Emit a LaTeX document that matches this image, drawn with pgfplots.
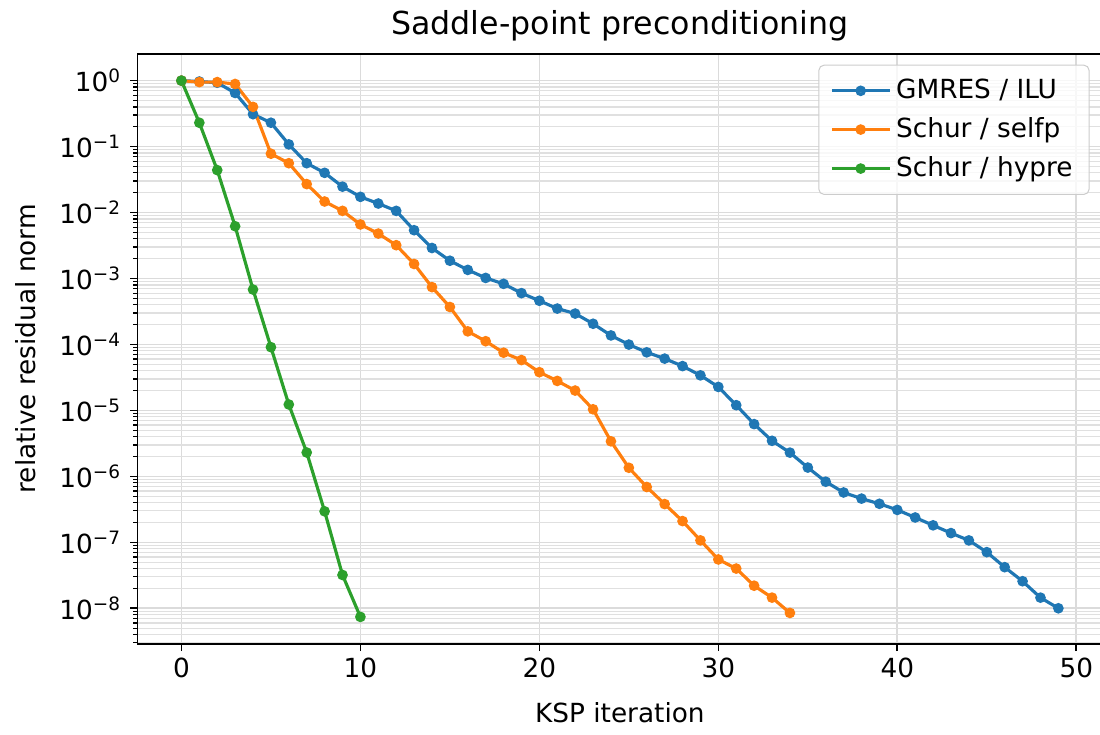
\documentclass[border={2.7pt 1.5pt -1.2pt 0.8pt}]{standalone}
\usepackage{fontspec}
\setmainfont{DejaVu Sans}
\usepackage{pgfplots}
\usepackage{pgfplotstable}
\pgfplotsset{compat=1.18}

\definecolor{tabblue}{HTML}{1F77B4}
\definecolor{taborange}{HTML}{FF7F0E}
\definecolor{tabgreen}{HTML}{2CA02C}

% KSP residual histories
\pgfplotstableread{
it res
0 1.0
1 0.97
2 0.93
3 0.65
4 0.31
5 0.23
6 0.108
7 0.056
8 0.040
9 0.0247
10 0.0173
11 0.0137
12 0.0106
13 0.0054
14 0.0029
15 0.00186
16 0.00135
17 0.00102
18 0.00083
19 0.00060
20 0.00046
21 0.00035
22 0.000294
23 0.000206
24 0.000137
25 0.0000996
26 7.6e-5
27 6.1e-5
28 4.7e-5
29 3.4e-5
30 2.27e-5
31 1.2e-5
32 6.2e-6
33 3.46e-6
34 2.29e-6
35 1.36e-6
36 8.3e-7
37 5.7e-7
38 4.6e-7
39 3.84e-7
40 3.1e-7
41 2.38e-7
42 1.81e-7
43 1.38e-7
44 1.07e-7
45 7.1e-8
46 4.2e-8
47 2.57e-8
48 1.45e-8
49 1.0e-8
}\gmresilu

\pgfplotstableread{
it res
0 1.0
1 0.95
2 0.95
3 0.89
4 0.40
5 0.078
6 0.056
7 0.027
8 0.0147
9 0.0106
10 0.0066
11 0.0048
12 0.0032
13 0.00166
14 0.00074
15 0.00037
16 1.58e-4
17 1.12e-4
18 7.5e-5
19 5.8e-5
20 3.8e-5
21 2.8e-5
22 2.0e-5
23 1.04e-5
24 3.4e-6
25 1.35e-6
26 6.9e-7
27 3.8e-7
28 2.1e-7
29 1.07e-7
30 5.5e-8
31 4.0e-8
32 2.2e-8
33 1.45e-8
34 8.5e-9
}\schurselfp

\pgfplotstableread{
it res
0 1.0
1 0.23
2 0.044
3 0.0062
4 6.8e-4
5 9.1e-5
6 1.23e-5
7 2.3e-6
8 2.95e-7
9 3.2e-8
10 7.4e-9
}\schurhypre

\begin{document}
\begin{tikzpicture}
\begin{semilogyaxis}[
    scale only axis,
    width=381pt, height=233pt,
    xmin=-2.45, xmax=51.45,
    ymin=2.9e-9, ymax=2.55,
    xtick={0,10,20,30,40,50},
    /pgf/number format/assume math mode=true,
    yticklabel={\pgfmathparse{int(round(\tick/2.302585))}10\textsuperscript{\ifnum\pgfmathresult<0 −\number-\pgfmathresult\else\pgfmathresult\fi}},
    tick label style={font=\fontsize{10.4}{12}\selectfont},
    xticklabel style={yshift=1pt},
    tick align=outside,
    tick pos=left,
    major tick length=2.9pt,
    minor tick length=1.7pt,
    every tick/.style={black, line width=0.65pt},
    minor tick style={line width=0.5pt},
    axis line style={line width=0.65pt},
    xmajorgrids, ymajorgrids, yminorgrids,
    major grid style={black!14, line width=0.65pt},
    minor grid style={black!12, line width=0.5pt},
    title={Saddle-point preconditioning},
    title style={font=\fontsize{12.5}{14}\selectfont, yshift=-4.5pt},
    xlabel={KSP iteration},
    ylabel={relative residual norm},
    label style={font=\fontsize{10.4}{12}\selectfont},
    xlabel style={yshift=-3pt},
    ylabel style={yshift=2.5pt},
    legend style={at={(1,1)}, anchor=north east, xshift=-5pt, yshift=-4.3pt,
        draw=black!20, rounded corners=2pt, fill=white, fill opacity=0.8,
        text opacity=1, font=\fontsize{10.4}{12.5}\selectfont,
        row sep=2pt, inner xsep=4.5pt, inner ysep=3.5pt},
    legend cell align=left,
    legend image code/.code={\draw[mark repeat=2,mark phase=2] plot coordinates {(0cm,0cm)(0.4cm,0cm)(0.8cm,0cm)};},
    every axis plot/.append style={line width=1.25pt, mark=*, mark size=1.45pt},
]
\addplot[tabblue, mark options={fill=tabblue, draw=tabblue}] table[x=it, y=res] {\gmresilu};
\addlegendentry{GMRES / ILU}
\addplot[taborange, mark options={fill=taborange, draw=taborange}] table[x=it, y=res] {\schurselfp};
\addlegendentry{Schur / selfp}
\addplot[tabgreen, mark options={fill=tabgreen, draw=tabgreen}] table[x=it, y=res] {\schurhypre};
\addlegendentry{Schur / hypre}
\end{semilogyaxis}
\end{tikzpicture}
\end{document}
